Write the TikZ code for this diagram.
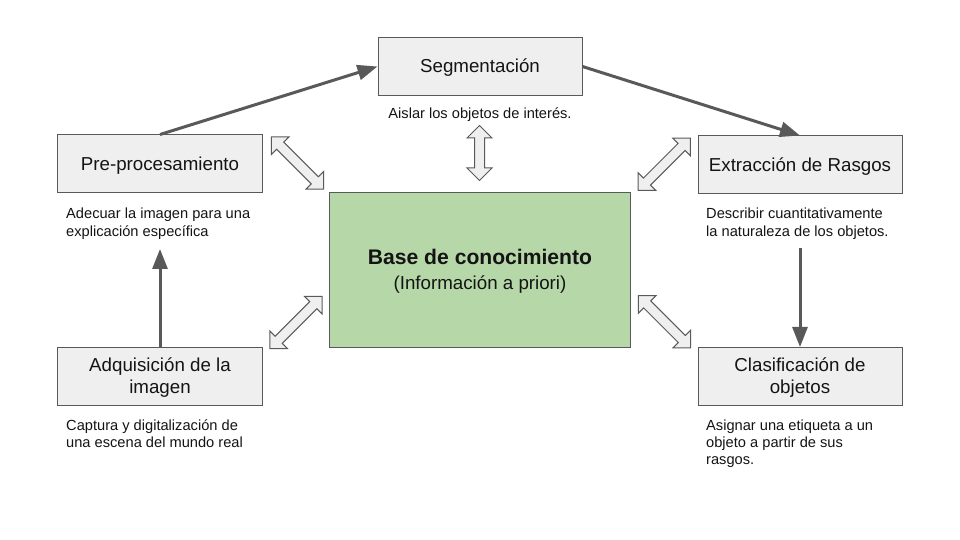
\documentclass[tikz,border=0pt]{standalone}
\usepackage{fontspec}
\setmainfont{Liberation Sans}
\usepackage{tikz}
\usetikzlibrary{arrows.meta,shapes.arrows,positioning,calc}
\definecolor{pdgray}{RGB}{89,89,89}
\definecolor{pdboxfill}{RGB}{239,239,239}
\definecolor{pdgreen}{RGB}{182,215,168}
\definecolor{pdtext}{RGB}{20,20,20}
\tikzstyle{flowarrow} = [line width=3bp, draw=pdgray, -{Triangle[length=20bp,width=15bp]}]
\tikzstyle{procbox} = [rectangle, minimum width=204bp, minimum height=58bp, align=center, draw=pdgray, fill=pdboxfill, line width=1bp, text=pdtext, font=\fontsize{18.8}{21.5}\selectfont, execute at begin node={\rule[-0.212em]{0pt}{1.117em}}]
\tikzstyle{procbox2} = [procbox, text height=38bp, text depth=5bp]
\tikzstyle{desc} = [inner sep=0pt, align=left, anchor=north west, text=pdtext, font=\fontsize{14.7}{17.4}\selectfont]
\tikzstyle{dblarrow} = [double arrow, draw=pdgray, fill=pdboxfill, line width=1bp, inner sep=4.5bp, double arrow head extend=7.5bp, double arrow tip angle=90]

\begin{document}
\begin{tikzpicture}[x=1bp,y=-1bp]
\useasboundingbox (0,0) rectangle (960,540);

% Processing steps
\node[procbox] (seg) at (480,66.5) {Segmentación};
\node[procbox] (pre) at (160,164) {Pre-procesamiento};
\node[procbox] (ext) at (800,165) {Extracción de Rasgos};
\node[procbox2] (adq) at (160,376.5) {Adquisición de la\\imagen};
\node[procbox2] (cla) at (800,376.5) {Clasificación de\\objetos};

% Knowledge base
\node[rectangle, draw=pdgray, fill=pdgreen, line width=1bp, minimum width=301bp, minimum height=155bp, align=center, text=pdtext, font=\fontsize{18.8}{24.8}\selectfont, text height=44bp, text depth=5bp] (base) at (480,270)
  {{\fontsize{21.2}{25}\selectfont\bfseries Base de conocimiento}\\(Información a priori)};

% Descriptions
\node[desc, anchor=north] (segdesc) at (480,108) {Aislar los objetos de interés.};
\node[desc] (predesc) at (66,208) {Adecuar la imagen para una\\explicación específica};
\node[desc] (extdesc) at (706,208) {Describir cuantitativamente\\la naturaleza de los objetos.};
\node[desc] (adqdesc) at (66,419.5) {Captura y digitalización de\\una escena del mundo real};
\node[desc] (cladesc) at (706,419.5) {Asignar una etiqueta a un\\objeto a partir de sus\\rasgos.};

% Flow
\coordinate (prein) at (160,249);
\coordinate (extout) at (800,248);
\draw[flowarrow] (pre.north) -- (seg.west);
\draw[flowarrow] (seg.east) -- (ext.north);
\draw[flowarrow] (extout) -- (cla.north);
\draw[flowarrow] (adq.north) -- (prein);

% Exchange with the knowledge base
\node[dblarrow, minimum height=74bp, rotate=-45] (dpre) at (297.5,163) {};
\node[dblarrow, minimum height=55bp, rotate=90] (dseg) at (479.5,153) {};
\node[dblarrow, minimum height=74bp, rotate=45] (dext) at (664.3,164.3) {};
\node[dblarrow, minimum height=74bp, rotate=45] (dadq) at (296,322.5) {};
\node[dblarrow, minimum height=74bp, rotate=-45] (dcla) at (664.5,321.7) {};
\end{tikzpicture}
\end{document}
